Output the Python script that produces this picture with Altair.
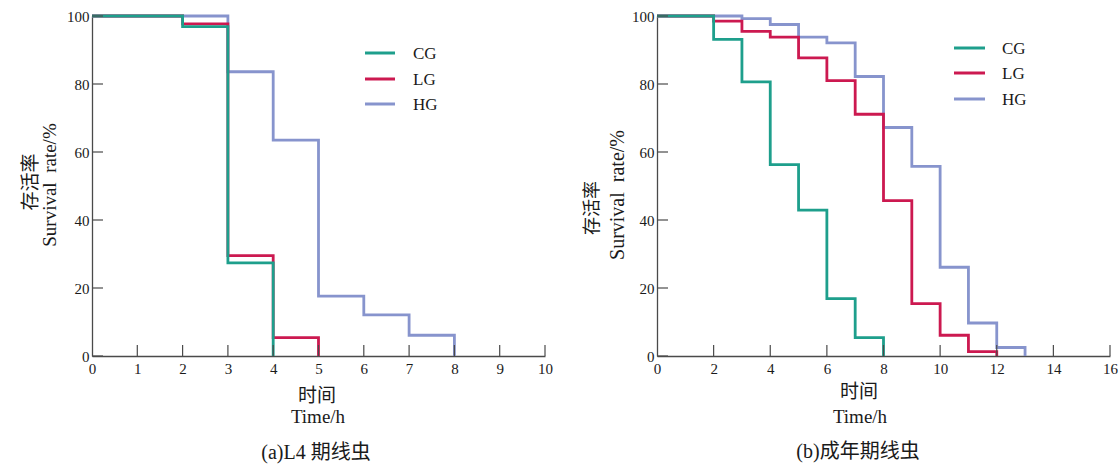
import altair as alt
import pandas as pd

# ---------------- data ----------------
# (a) L4 stage
a_cg_t = [0, 2, 3, 4]
a_cg_s = [100, 96.9, 27.4, 0]
a_lg_t = [0, 2, 3, 4, 5]
a_lg_s = [100, 97.7, 29.5, 5.4, 0]
a_hg_t = [0, 3, 4, 5, 6, 7, 8]
a_hg_s = [100, 83.6, 63.5, 17.6, 12.1, 6.1, 0]

# (b) adult stage
b_cg_t = [0, 2, 3, 4, 5, 6, 7, 8]
b_cg_s = [100, 93.1, 80.6, 56.3, 42.9, 16.9, 5.4, 0]
b_lg_t = [0, 2, 3, 4, 5, 6, 7, 8, 9, 10, 11, 12]
b_lg_s = [100, 98.5, 95.5, 93.8, 87.7, 81.0, 71.1, 45.7, 15.4, 6.1, 1.3, 0]
b_hg_t = [0, 3, 4, 5, 6, 7, 8, 9, 10, 11, 12, 13]
b_hg_s = [100, 99.2, 97.5, 93.8, 92.1, 82.2, 67.2, 55.8, 26.1, 9.7, 2.5, 0]

groups = ["CG", "LG", "HG"]
colors = {"CG": "#1e9f8c", "LG": "#cc1950", "HG": "#8794cd"}

y_ticks = [0, 20, 40, 60, 80, 100]
a_x_ticks = [0, 1, 2, 3, 4, 5, 6, 7, 8, 9, 10]
b_x_ticks = [0, 2, 4, 6, 8, 10, 12, 14, 16]

SERIF = "Liberation Serif"
MIXED = "Liberation Serif, Noto Sans CJK SC"
CJK = "Noto Sans CJK SC"
W, H = 453, 340
AXIS_COLOR = "#4a4a4a"
TEXT_COLOR = "#1a1a1a"


def one():
    return alt.Data(values=[{}])


def panel(series, xmax, xticks, leg, ytitles, xtitles, bound_box):
    xs = alt.Scale(domain=[0, xmax], nice=False, zero=False)
    ys = alt.Scale(domain=[0, 100], nice=False, zero=False)
    xaxis = alt.Axis(
        values=xticks, title=None, grid=False, ticks=False, tickSize=0,
        labelPadding=5, domainColor=AXIS_COLOR, domainWidth=1.3,
        labelFont=SERIF, labelFontSize=15, labelColor=TEXT_COLOR,
        labelFlush=False, labelOverlap=False)
    yaxis = alt.Axis(
        values=y_ticks, title=None, grid=False, ticks=False, tickSize=0,
        labelPadding=3, domainColor=AXIS_COLOR, domainWidth=1.3,
        labelFont=SERIF, labelFontSize=15, labelColor=TEXT_COLOR,
        labelFlush=False, labelOverlap=False)
    layers = []

    # step lines (HG first, CG on top)
    for g in ["HG", "LG", "CG"]:
        t, s = series[g]
        df = pd.DataFrame({"t": t, "s": s})
        layers.append(
            alt.Chart(df).mark_line(interpolate="step-after", color=colors[g],
                                    strokeWidth=2.8, clip=False).encode(
                x=alt.X("t:Q", scale=xs, axis=xaxis),
                y=alt.Y("s:Q", scale=ys, axis=yaxis),
                order="t:Q")
        )

    # inward tick marks
    layers.append(
        alt.Chart(pd.DataFrame({"t": xticks[1:]})).mark_rule(
            color=AXIS_COLOR, strokeWidth=1.2).encode(
            x=alt.X("t:Q", scale=xs, axis=xaxis), y=alt.value(H), y2=alt.value(H - 11))
    )
    layers.append(
        alt.Chart(pd.DataFrame({"s": y_ticks})).mark_rule(
            color=AXIS_COLOR, strokeWidth=1.2).encode(
            y=alt.Y("s:Q", scale=ys, axis=yaxis), x=alt.value(0), x2=alt.value(11))
    )

    # legend
    lx0, lx1, tx, lys = leg
    for g, ly in zip(groups, lys):
        layers.append(
            alt.Chart(one()).mark_rule(color=colors[g], strokeWidth=3).encode(
                x=alt.value(lx0), x2=alt.value(lx1), y=alt.value(ly))
        )
        layers.append(
            alt.Chart(one()).mark_text(text=g, font=SERIF, fontSize=17, align="left",
                                       baseline="middle", color=TEXT_COLOR).encode(
                x=alt.value(tx), y=alt.value(ly + 1))
        )

    # y titles (rotated)
    for txt, x, y, size, font, base in ytitles:
        layers.append(
            alt.Chart(one()).mark_text(text=txt, font=font, fontSize=size, angle=270,
                                       align="center", baseline=base,
                                       color=TEXT_COLOR).encode(
                x=alt.value(x), y=alt.value(y))
        )
    # x titles and caption
    for txt, x, y, size, font in xtitles:
        layers.append(
            alt.Chart(one()).mark_text(text=txt, font=font, fontSize=size,
                                       align="center", baseline="middle",
                                       color=TEXT_COLOR).encode(
                x=alt.value(x), y=alt.value(y))
        )

    # invisible box that fixes the bounds of the whole figure
    bx0, bx1, by0, by1 = bound_box
    layers.append(
        alt.Chart(one()).mark_rect(opacity=0).encode(
            x=alt.value(bx0), x2=alt.value(bx1), y=alt.value(by0), y2=alt.value(by1)
        )
    )

    return alt.layer(*layers).properties(width=W, height=H)


left = panel(
    {"CG": (a_cg_t, a_cg_s), "LG": (a_lg_t, a_lg_s), "HG": (a_hg_t, a_hg_s)},
    10, a_x_ticks,
    (273, 303, 321, [37, 63, 88]),
    [("存活率", -61, 166, 19, CJK, "middle"),
     ("Survival\u2002rate/%", -36, 169, 19, SERIF, "alphabetic")],
    [("时间", 225, 380, 19, CJK), ("Time/h", 226, 401, 19, SERIF),
     ("(a)L4 期线虫", 224, 437, 20, MIXED)],
    (-92, 0, -16, 453),
)

right = panel(
    {"CG": (b_cg_t, b_cg_s), "LG": (b_lg_t, b_lg_s), "HG": (b_hg_t, b_hg_s)},
    16, b_x_ticks,
    (297, 328, 345, [32, 57, 83]),
    [("存活率", -64, 192, 18, CJK, "middle"),
     ("Survival\u2002rate/%", -33, 179, 20, SERIF, "alphabetic")],
    [("时间", 202, 376, 19, CJK), ("Time/h", 203, 401, 19, SERIF),
     ("(b)成年期线虫", 201, 436, 20, MIXED)],
    (0, 463, -16, 453),
)

chart = alt.hconcat(left, right, spacing=112, bounds="flush", padding=0).configure_view(
    stroke=None
)

chart.save("out.html", embed_options={"renderer": "svg", "actions": False})
